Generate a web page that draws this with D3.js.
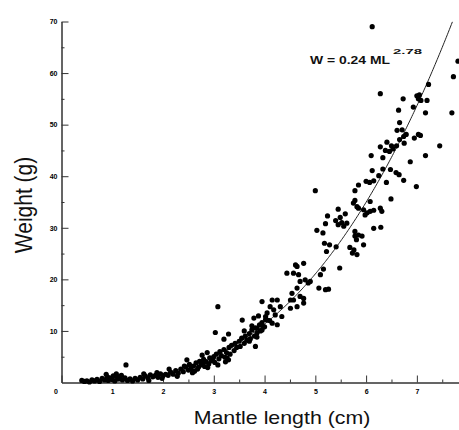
<!DOCTYPE html>
<html>
<head>
<meta charset="utf-8">
<script src="https://cdn.jsdelivr.net/npm/d3@7"></script>
<style>
body { margin: 0; background: #fff; }
text { font-family: "Liberation Sans", Arial, sans-serif; }
</style>
</head>
<body>
<svg width="459" height="430"></svg>
<script>
// tick values
var xTicks = [0, 1, 2, 3, 4, 5, 6, 7];
var xMinor = [0.5, 1.5, 2.5, 3.5, 4.5, 5.5, 6.5, 7.5];
var yTicks = [10, 20, 30, 40, 50, 60, 70];
var yMinor = [5, 15, 25, 35, 45, 55, 65];

// fitted curve W = a * ML^b
var fitCoef = 0.24, fitExp = 2.78;

// [mantle length (cm), weight (g)]
var squid = [
 [0.40,0.4],[0.45,0.2],[0.50,0.3],[0.55,0.1],[0.60,0.5],[0.65,0.3],[0.70,0.6],[0.75,0.2],
 [0.80,0.8],[0.85,0.5],[0.88,1.6],[0.90,1.1],[0.92,0.4],[0.95,0.9],[1.00,0.6],[1.02,1.3],
 [1.05,0.3],[1.08,1.7],[1.10,1.0],[1.12,0.7],[1.15,1.2],[1.18,1.4],[1.20,0.5],[1.25,0.9],
 [1.27,3.4],[1.30,0.4],[1.35,0.7],[1.40,0.3],[1.45,0.8],[1.50,0.5],[1.55,1.0],[1.60,0.7],
 [1.62,1.7],[1.65,1.3],[1.70,0.9],[1.72,0.4],[1.75,1.5],[1.80,1.1],[1.85,1.4],[1.88,1.9],
 [1.90,1.0],[1.95,1.7],[1.98,0.8],[2.00,1.3],[2.05,1.6],
 [2.10,1.4],[2.12,2.6],[2.15,2.0],[2.20,1.6],[2.25,2.3],[2.28,1.2],[2.30,1.8],[2.35,2.6],
 [2.40,2.1],[2.42,3.2],[2.45,3.0],[2.47,4.4],[2.50,2.4],[2.52,3.5],[2.55,2.7],[2.58,1.9],
 [2.60,3.2],[2.62,2.2],[2.65,3.8],[2.68,2.6],[2.70,3.0],[2.72,4.1],[2.75,3.4],[2.77,5.3],
 [2.78,3.8],[2.80,4.5],[2.82,3.1],[2.85,4.0],[2.87,5.8],[2.88,2.9],[2.90,3.6],[2.92,4.8],
 [2.95,4.2],[2.98,4.4],[3.00,5.0],[3.02,3.9],[3.05,5.5],[3.08,3.4],[3.10,4.6],[3.12,6.0],
 [3.15,5.2],[3.20,6.4],[3.22,4.9],[3.23,4.0],[3.25,5.8],[3.26,4.8],[3.29,4.4],[3.30,6.8],
 [3.32,5.5],[3.35,7.2],[3.40,6.2],[3.42,7.6],[3.45,6.8],[3.50,8.0],[3.52,7.0],[3.55,8.6],
 [3.60,7.6],[3.60,10.0],[3.62,9.0],[3.65,8.2],[3.70,9.5],[3.70,8.0],[3.72,8.5],[3.75,10.2],
 [3.75,11.0],[3.80,9.0],[3.82,10.6],[3.85,9.6],[3.85,8.8],[3.90,11.2],[3.92,10.0],[3.95,11.6],
 [3.95,10.2],[4.00,10.8],[4.02,12.2],[4.05,13.5],[4.10,12.0],
 [3.08,14.7],[3.03,9.7],[3.29,9.4],[3.20,8.4],[3.56,12.1],[3.79,12.5],[3.88,12.9],[3.82,7.0],
 [3.95,15.7],
 [4.15,16.0],[4.25,16.0],[4.11,14.7],[4.18,14.1],[4.31,14.7],[4.21,13.1],[4.02,12.8],[4.34,12.8],
 [4.51,14.4],[4.05,12.1],[4.15,11.5],[4.25,11.2],[3.98,10.8],[3.85,10.5],
 [4.64,18.3],[4.70,16.7],[4.54,17.3],[4.57,16.0],[4.77,16.3],[4.77,15.4],[4.64,14.7],[4.51,16.0],
 [4.70,19.6],[4.80,19.9],[4.86,19.3],[4.90,19.6],[5.07,18.3],[5.20,18.0],[5.26,18.1],
 [4.77,23.1],[4.61,22.8],[4.64,22.5],[4.57,21.2],[4.67,20.9],[4.44,21.2],
 [5.48,22.2],[5.16,22.0],[5.10,20.9],[5.00,37.2],
 [5.45,33.6],[5.24,32.3],[5.59,32.7],[5.49,32.0],[5.40,31.4],[5.52,31.0],[5.56,30.3],[5.45,30.6],
 [5.62,30.9],[5.20,30.8],[5.03,29.5],[5.15,29.0],[5.18,27.0],[5.28,26.7],[5.22,25.4],[5.41,26.3],
 [5.68,26.2],
 [6.64,52.8],[6.66,50.4],[6.61,48.9],[6.71,49.0],[6.79,48.1],[6.74,47.7],[6.66,47.1],[6.75,46.4],
 [7.03,48.1],[6.95,47.4],[6.41,46.6],[6.28,45.7],[6.50,45.9],[6.53,45.3],[6.46,44.8],[6.10,44.0],
 [6.33,43.6],[6.87,42.8],[6.12,41.1],[6.33,41.4],[6.48,41.3],[6.59,40.7],[6.65,40.3],[6.25,40.1],
 [6.40,38.8],[6.74,39.2],[6.99,38.0],[6.00,39.0],[6.07,38.8],[6.15,39.1],[5.85,38.3],[5.78,37.2],
 [6.49,35.6],[6.08,35.1],[5.78,35.3],[5.75,34.8],[5.82,34.1],[5.85,33.8],[5.95,33.5],[6.02,32.9],
 [6.08,33.2],[6.15,33.4],[5.98,32.5],[6.28,33.8],[6.31,33.2],[6.15,29.9],[6.29,30.1],[5.78,29.3],
 [5.78,28.4],[5.85,28.6],[5.92,28.4],[5.81,27.7],[5.76,25.7],[5.73,25.1],[5.82,24.8],[5.95,26.7],
 [6.60,45.9],[6.38,45.0],[7.17,44.0],
 [7.81,62.3],[7.72,59.3],[7.69,52.3],[7.45,45.9],[7.23,57.8],[7.00,55.6],[7.05,55.8],[7.03,55.0],
 [7.08,54.7],[7.20,54.7],[6.73,55.0],[6.93,53.4],[7.17,52.3],[7.07,47.9],[6.28,56.0],[6.12,69.0]
];

var svg = d3.select("svg"),
    margin = {top: 21.5, right: 0, bottom: 47.5, left: 61.5},
    width = +svg.attr("width") - margin.left - margin.right,
    height = +svg.attr("height") - margin.top - margin.bottom;

var xScale = d3.scaleLinear().domain([0, 7.83]).range([0, width]);
var yScale = d3.scaleLinear().domain([0, 70]).range([height, 0]);

var g = svg.append("g")
    .attr("transform", "translate(" + margin.left + "," + margin.top + ")");

// x axis: minor then major ticks, pointing up into the plot
g.append("g")
    .attr("transform", "translate(0," + height + ")")
    .call(d3.axisBottom(xScale).tickValues(xMinor).tickSize(-3).tickSizeOuter(0).tickFormat(""));
g.append("g")
    .attr("class", "xaxis")
    .attr("transform", "translate(0," + height + ")")
    .call(d3.axisBottom(xScale).tickValues(xTicks).tickSize(-7).tickSizeOuter(0).tickPadding(7));

// y axis, ticks pointing right
g.append("g")
    .call(d3.axisLeft(yScale).tickValues(yMinor).tickSize(-3).tickSizeOuter(0).tickFormat(""));
g.append("g")
    .attr("class", "yaxis")
    .call(d3.axisLeft(yScale).tickValues(yTicks).tickSize(-7).tickSizeOuter(0).tickPadding(4));

g.selectAll(".domain").attr("stroke", "#333");
g.selectAll(".tick line").attr("stroke", "#333");
g.selectAll(".tick text").attr("font-size", "7px").attr("fill", "#000")
    .attr("font-weight", "bold")
    .attr("font-family", "Liberation Sans, Arial, sans-serif");
// the origin label sits a little left of the axis in the original
g.selectAll(".xaxis .tick text").filter(function(d) { return d === 0; }).attr("dx", -6);

// fitted curve
var curveX = d3.range(0.4, 7.71, 0.02);
var line = d3.line()
    .x(function(d) { return xScale(d); })
    .y(function(d) { return yScale(fitCoef * Math.pow(d, fitExp)); });
g.append("path")
    .datum(curveX)
    .attr("fill", "none")
    .attr("stroke", "#222")
    .attr("stroke-width", 1)
    .attr("d", line);

// points
g.selectAll(".dot")
    .data(squid)
    .enter().append("circle")
    .attr("class", "dot")
    .attr("r", 2.6)
    .attr("cx", function(d) { return xScale(d[0]); })
    .attr("cy", function(d) { return yScale(d[1]); })
    .style("fill", "#000");

// equation
svg.append("text")
    .attr("x", 310).attr("y", 64)
    .attr("font-size", "10px")
    .attr("font-weight", "bold")
    .attr("textLength", 80).attr("lengthAdjust", "spacingAndGlyphs")
    .attr("fill", "#111")
    .text("W = " + fitCoef + " ML");
svg.append("text")
    .attr("x", 393).attr("y", 54)
    .attr("font-size", "8px")
    .attr("font-weight", "bold")
    .attr("textLength", 29).attr("lengthAdjust", "spacingAndGlyphs")
    .attr("fill", "#111")
    .text(fitExp);

// axis titles
svg.append("text")
    .attr("transform", "translate(282,424) scale(1.22,1)")
    .attr("text-anchor", "middle")
    .attr("font-size", "17.5px")
    .attr("fill", "#111")
    .text("Mantle length (cm)");
svg.append("text")
    .attr("transform", "translate(31.5,205) scale(1.1,1) rotate(-90)")
    .attr("text-anchor", "middle")
    .attr("font-size", "21px")
    .attr("fill", "#111")
    .text("Weight (g)");
</script>
</body>
</html>
